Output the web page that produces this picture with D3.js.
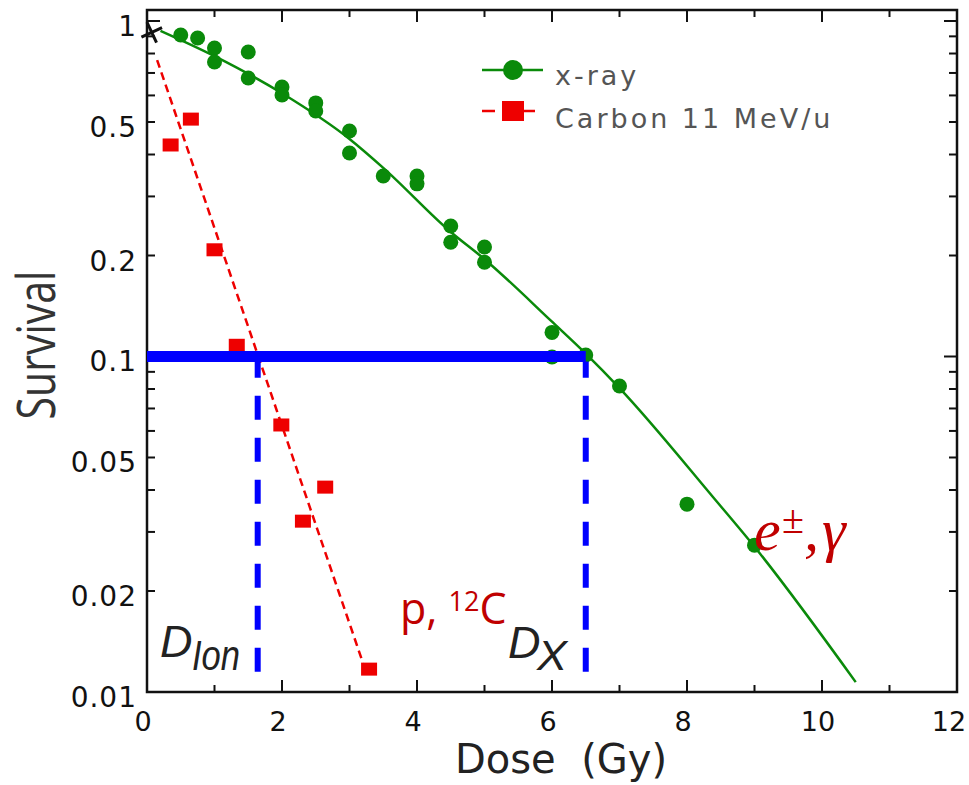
<!DOCTYPE html>
<html>
<head>
<meta charset="utf-8">
<script src="https://cdn.jsdelivr.net/npm/d3@7"></script>
<style>
  body { margin: 0; background: #fff; }
  svg { display: block; }
</style>
</head>
<body>
<div id="chart"></div>
<script>
// x-ray measurements (dose in Gy, surviving fraction)
const xrayDose = [0.5, 0.75, 1, 1, 1.5, 1.5, 2, 2, 2.5, 2.5, 3, 3, 3.5, 4, 4, 4.5, 4.5, 5, 5, 6, 6, 6.5, 7, 8, 9];
const xraySurv = [0.908, 0.89, 0.831, 0.755, 0.808, 0.676, 0.636, 0.602, 0.57, 0.539, 0.47, 0.404, 0.345, 0.345, 0.327, 0.245, 0.219, 0.212, 0.191, 0.118, 0.0997, 0.101, 0.0817, 0.0363, 0.0274];

// carbon 11 MeV/u measurements
const carbonDose = [0.35, 0.65, 1.0, 1.33, 1.99, 2.31, 2.64, 3.29];
const carbonSurv = [0.427, 0.51, 0.208, 0.108, 0.0625, 0.0323, 0.0408, 0.0117];

// fitted curves
const xrayFitDose = [0.2, 1, 2, 3, 3.5, 4.5, 5, 6, 6.5, 7, 8.4, 9, 10.5];
const xrayFitSurv = [0.935, 0.786, 0.609, 0.445, 0.365, 0.235, 0.195, 0.127, 0.102, 0.0805, 0.0378, 0.0271, 0.0107];
const carbonFitDose = [0.15, 3.2];
const carbonFitSurv = [0.765, 0.0122];

// 10% survival doses
const isoSurv = 0.1;
const ionDose = 1.64;
const xDose = 6.5;
const dropEnd = 0.0115;

// odd marker at the origin
const originMark = [[0.07, 0.925]];

// axes
const xTicks = [0, 2, 4, 6, 8, 10, 12];
const xMinor = [1, 3, 5, 7, 9, 11];
const yTickLabels = [1, 0.5, 0.2, 0.1, 0.05, 0.02, 0.01];
const yTickText = ["1", "0.5", "0.2", "0.1", "0.05", "0.02", "0.01"];
const yMajor = [1, 0.1, 0.01];

const legendNames = ["x-ray", "Carbon 11 MeV/u"];

const W = 969, H = 785;
const svg = d3.select("#chart").append("svg").attr("width", W).attr("height", H);

const x = d3.scaleLinear().domain([0, 12]).range([147, 957]);
const y = d3.scaleLog().domain([0.01, 1.0784]).range([692, 10]);

const green = "#0a8a0a", red = "#ee0000", blue = "#0000ff";

// minor log ticks
const yMinor = [];
[0.01, 0.1].forEach(function(dec) {
  for (let k = 2; k <= 9; k++) yMinor.push(dec * k);
});

const axes = svg.append("g").attr("stroke", "#111").attr("stroke-width", 2);
// bottom and top
xTicks.concat(xMinor).forEach(function(t) {
  const len = xTicks.indexOf(t) >= 0 ? 12 : 7;
  axes.append("line").attr("x1", x(t)).attr("x2", x(t)).attr("y1", 692).attr("y2", 692 - len);
  axes.append("line").attr("x1", x(t)).attr("x2", x(t)).attr("y1", 10).attr("y2", 10 + len);
});
// left and right
yMajor.concat(yMinor).forEach(function(t) {
  const len = yMajor.indexOf(t) >= 0 ? 13 : 8;
  axes.append("line").attr("x1", 147).attr("x2", 147 + len).attr("y1", y(t)).attr("y2", y(t));
  axes.append("line").attr("x1", 957).attr("x2", 957 - len).attr("y1", y(t)).attr("y2", y(t));
});
svg.append("rect")
  .attr("x", 147).attr("y", 10).attr("width", 810).attr("height", 682)
  .attr("fill", "none").attr("stroke", "#111").attr("stroke-width", 2.5);

// tick labels
svg.append("g").selectAll("text").data(xTicks).join("text")
  .attr("x", d => Math.min(x(d) - 4, W - 20)).attr("y", 731)
  .attr("text-anchor", "middle")
  .style("font-family", "DejaVu Sans").style("font-size", "27px").attr("fill", "#111")
  .text(d => d);

svg.append("g").selectAll("text").data(yTickLabels).join("text")
  .attr("x", 137).attr("y", d => y(d) + 15)
  .attr("text-anchor", "end")
  .style("font-family", "DejaVu Sans").style("font-size", "28px").attr("fill", "#111")
  .style("letter-spacing", "1px")
  .text((d, i) => yTickText[i]);

// axis titles
svg.append("text")
  .attr("x", 561).attr("y", 773).attr("text-anchor", "middle")
  .style("font-family", "DejaVu Sans").style("font-size", "40px").attr("fill", "#222")
  .style("white-space", "pre")
  .text("Dose  (Gy)");

svg.append("text")
  .attr("transform", "translate(55,345) rotate(-90) scale(1,1.27)")
  .attr("text-anchor", "middle")
  .style("font-family", "Open Sans").style("font-size", "41px").attr("fill", "#333")
  .text("Survival");

// fitted curves
const line = d3.line().x(d => x(d[0])).y(d => y(d[1]));
svg.append("path")
  .datum(xrayFitDose.map((d, i) => [d, xrayFitSurv[i]]))
  .attr("d", line.curve(d3.curveMonotoneX))
  .attr("fill", "none").attr("stroke", green).attr("stroke-width", 2.5);

svg.append("path")
  .datum(carbonFitDose.map((d, i) => [d, carbonFitSurv[i]]))
  .attr("d", d3.line().x(d => x(d[0])).y(d => y(d[1])))
  .attr("fill", "none").attr("stroke", red).attr("stroke-width", 2.5)
  .attr("stroke-dasharray", "8,5");

// data points
svg.append("g").selectAll("circle").data(xrayDose).join("circle")
  .attr("cx", d => x(d)).attr("cy", (d, i) => y(xraySurv[i]))
  .attr("r", 7.5).attr("fill", green);

svg.append("g").selectAll("rect").data(carbonDose).join("rect")
  .attr("x", d => x(d) - 8).attr("y", (d, i) => y(carbonSurv[i]) - 6.5)
  .attr("width", 16).attr("height", 13).attr("fill", red);

svg.append("g").selectAll("path").data(originMark).join("path")
  .attr("transform", d => `translate(${x(d[0])},${y(d[1])}) rotate(20)`)
  .attr("d", d3.symbol(d3.symbolTimes, 170))
  .attr("fill", "none").attr("stroke", "#111").attr("stroke-width", 3);

// 10% survival guide lines
svg.append("line")
  .attr("x1", x(0)).attr("x2", x(xDose)).attr("y1", y(isoSurv)).attr("y2", y(isoSurv))
  .attr("stroke", blue).attr("stroke-width", 11);

[ionDose, xDose].forEach(function(d) {
  svg.append("line")
    .attr("x1", x(d)).attr("x2", x(d)).attr("y1", y(dropEnd)).attr("y2", y(isoSurv) + 5)
    .attr("stroke", blue).attr("stroke-width", 6).attr("stroke-dasharray", "24,18");
});

// annotations
const ann = svg.append("g");
ann.append("text").attr("x", 160).attr("y", 657)
  .style("font-family", "Liberation Sans").style("font-style", "italic").style("font-size", "45px")
  .attr("fill", "#222").text("D");
ann.append("text").attr("x", 192).attr("y", 670).attr("textLength", 48).attr("lengthAdjust", "spacingAndGlyphs")
  .style("font-family", "Liberation Sans").style("font-style", "italic").style("font-size", "42px")
  .attr("fill", "#222").text("Ion");
ann.append("text").attr("x", 508).attr("y", 658)
  .style("font-family", "Liberation Sans").style("font-style", "italic").style("font-size", "45px")
  .attr("fill", "#222").text("D");
ann.append("text").attr("x", 537).attr("y", 670).attr("textLength", 30).attr("lengthAdjust", "spacingAndGlyphs")
  .style("font-family", "Liberation Sans").style("font-style", "italic").style("font-size", "42px")
  .attr("fill", "#222").text("X");

const pc = ann.append("text").attr("x", 400).attr("y", 624)
  .style("font-family", "Open Sans").style("font-size", "43px").attr("fill", "#c00000");
pc.append("tspan").text("p, ");
pc.append("tspan").attr("dy", -13).style("font-size", "27px").text("12");
pc.append("tspan").attr("dy", 13).text("C");

const eg = ann.append("text").attr("y", 550)
  .style("font-family", "Liberation Serif").style("font-style", "italic").style("font-size", "60px")
  .attr("fill", "#c00000");
eg.append("tspan").attr("x", 754).text("e");
eg.append("tspan").attr("x", 782).attr("y", 533).style("font-size", "40px").style("font-style", "normal").text("±");
eg.append("tspan").attr("x", 804).attr("y", 550).text(",");
eg.append("tspan").attr("x", 822).text("γ");

// legend
const leg = svg.append("g");
leg.append("line").attr("x1", 482).attr("x2", 543).attr("y1", 70).attr("y2", 70)
  .attr("stroke", green).attr("stroke-width", 2.5);
leg.append("circle").attr("cx", 513).attr("cy", 70).attr("r", 10).attr("fill", green);
leg.append("line").attr("x1", 482).attr("x2", 541).attr("y1", 111).attr("y2", 111)
  .attr("stroke", red).attr("stroke-width", 2.5).attr("stroke-dasharray", "13,7");
leg.append("rect").attr("x", 502).attr("y", 101).attr("width", 22).attr("height", 20).attr("fill", red);
leg.selectAll("text.name").data(legendNames).join("text")
  .attr("x", 555).attr("y", (d, i) => 85 + i * 43)
  .style("font-family", "DejaVu Sans").style("font-size", "27px").style("letter-spacing", "3px")
  .attr("fill", "#555")
  .text(d => d);
</script>
</body>
</html>
